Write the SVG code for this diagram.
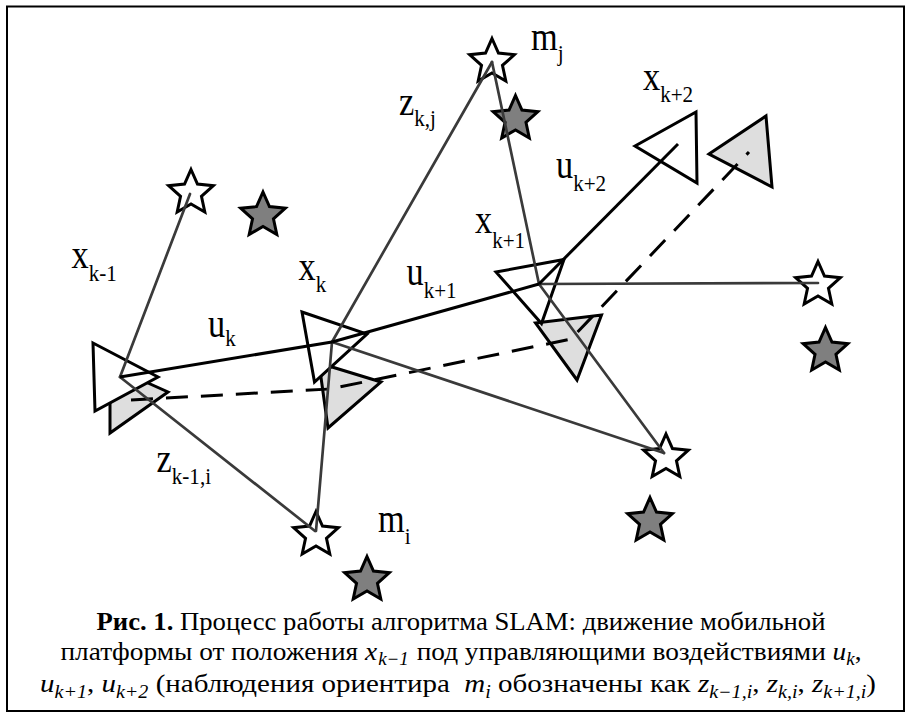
<svg xmlns="http://www.w3.org/2000/svg" width="911" height="718" viewBox="0 0 911 718">
<style>
.frame{fill:#fff;stroke:#000;stroke-width:2}
.ws{fill:#fff;stroke:#000;stroke-width:3}
.ds{fill:#7f7f7f;stroke:#000;stroke-width:3}
.wt{fill:#fff;stroke:#000;stroke-width:3}
.gt{fill:#dedede;stroke:#000;stroke-width:3}
.obs{stroke:#3a3a3a;stroke-width:2.7;fill:none;stroke-linecap:round}
.ctl{stroke:#000;stroke-width:3;fill:none}
.est{stroke:#000;stroke-width:3;fill:none;stroke-dasharray:22 13}
.lbl{font-family:"Liberation Serif","Times New Roman",serif;font-size:39px;fill:#000}
.sb{font-size:24px}
.cap{font-family:"Liberation Serif","Times New Roman",serif;font-size:26px;fill:#000}
.mi{font-style:italic}
.cs{font-size:18px}
</style>
<defs>
<path id="star" d="M0,-23.5 L6.47,-8.9 L22.35,-7.26 L10.46,3.4 L13.81,19.01 L0,11 L-13.81,19.01 L-10.46,3.4 L-22.35,-7.26 L-6.47,-8.9 Z"/>
</defs>
<rect class="frame" x="7" y="6.5" width="897" height="704.5"/>

<g id="landmarks">
<g id="lm-s1"><use href="#star" class="ws" x="191" y="193"/></g>
<g id="lm-s1-true"><use href="#star" class="ds" x="263" y="215.5"/></g>
<g id="lm-mj"><use href="#star" class="ws" x="492" y="62"/></g>
<g id="lm-mj-true"><use href="#star" class="ds" x="515.5" y="119"/></g>
<g id="lm-s5"><use href="#star" class="ws" x="818" y="285"/></g>
<g id="lm-s5-true"><use href="#star" class="ds" x="825.5" y="351"/></g>
<g id="lm-s4"><use href="#star" class="ws" x="666" y="457.5"/></g>
<g id="lm-s4-true"><use href="#star" class="ds" x="650" y="521"/></g>
<g id="lm-mi"><use href="#star" class="ws" x="316" y="535"/></g>
<g id="lm-mi-true"><use href="#star" class="ds" x="367" y="580"/></g>
</g>

<g id="pose-est">
<polygon class="gt" points="110,366 168,392 110,433"/>
<polygon class="gt" points="319,363 381,382 328,428"/>
<polygon class="gt" points="535.5,323 601.5,315 577,380"/>
<polygon class="gt" points="709,154 766,116 772,187"/>
</g>

<g id="pose-xk-1"><polygon class="wt" points="93,343 158,377 95,411"/></g>
<g id="pose-xk"><polygon class="wt" points="302,312 367,334 314.5,382"/></g>
<g id="pose-xk+1"><polygon class="wt" points="496,272 564,259.5 541.5,323.5"/></g>
<g id="pose-xk+2"><polygon class="wt" points="635,146 696,112 697,183"/></g>

<g id="connectors">
<path class="est" d="M131,400 L330,389 L571,339 L749,152"/>
<line class="obs" x1="120" y1="377" x2="190" y2="194"/>
<line class="obs" x1="120" y1="377" x2="315" y2="531"/>
<line class="obs" x1="332" y1="342" x2="492" y2="62"/>
<line class="obs" x1="332" y1="342" x2="316" y2="531"/>
<line class="obs" x1="332" y1="342" x2="664" y2="453"/>
<line class="obs" x1="539" y1="284" x2="492" y2="62"/>
<line class="obs" x1="539" y1="284" x2="818" y2="283"/>
<line class="obs" x1="539" y1="284" x2="664" y2="453"/>
<line class="ctl" x1="120" y1="377" x2="332" y2="342"/>
<line class="ctl" x1="332" y1="342" x2="539" y2="284"/>
<line class="ctl" x1="539" y1="284" x2="678" y2="144"/>
</g>

<g id="labels">
<g transform="translate(71.5,268) scale(0.88,1)"><text class="lbl">x<tspan class="sb" dy="13">k-1</tspan></text></g>
<g transform="translate(298.5,280) scale(0.88,1)"><text class="lbl">x<tspan class="sb" dy="12">k</tspan></text></g>
<g transform="translate(208,337) scale(0.88,1)"><text class="lbl">u<tspan class="sb" dy="9">k</tspan></text></g>
<g transform="translate(406.5,285) scale(0.88,1)"><text class="lbl">u<tspan class="sb" dy="13">k+1</tspan></text></g>
<g transform="translate(475,233) scale(0.88,1)"><text class="lbl">x<tspan class="sb" dy="15">k+1</tspan></text></g>
<g transform="translate(643,90) scale(0.88,1)"><text class="lbl">x<tspan class="sb" dy="12">k+2</tspan></text></g>
<g transform="translate(556,178) scale(0.88,1)"><text class="lbl">u<tspan class="sb" dy="13">k+2</tspan></text></g>
<g transform="translate(531,50) scale(0.88,1)"><text class="lbl">m<tspan class="sb" dy="11">j</tspan></text></g>
<g transform="translate(378,532) scale(0.88,1)"><text class="lbl">m<tspan class="sb" dy="12">i</tspan></text></g>
<g transform="translate(399,115) scale(0.88,1)"><text class="lbl">z<tspan class="sb" dy="11">k,j</tspan></text></g>
<g transform="translate(156.5,472) scale(0.88,1)"><text class="lbl">z<tspan class="sb" dy="12">k-1,i</tspan></text></g>
</g>

<g id="caption">
<text class="cap" x="461" y="630" text-anchor="middle" textLength="729" lengthAdjust="spacingAndGlyphs"><tspan font-weight="bold">Рис. 1.</tspan> Процесс работы алгоритма SLAM: движение мобильной</text>
<text class="cap" x="461" y="660" text-anchor="middle" textLength="801" lengthAdjust="spacingAndGlyphs">платформы от положения <tspan class="mi">x</tspan><tspan class="cs mi" dy="5" dx="1">k−1</tspan><tspan dy="-5" dx="1"> под управляющими воздействиями </tspan><tspan class="mi">u</tspan><tspan class="cs mi" dy="5">k</tspan><tspan dy="-5">,</tspan></text>
<text class="cap" x="458" y="692" text-anchor="middle" textLength="836" lengthAdjust="spacingAndGlyphs"><tspan class="mi">u</tspan><tspan class="cs mi" dy="6">k+1</tspan><tspan dy="-6">, </tspan><tspan class="mi">u</tspan><tspan class="cs mi" dy="6">k+2</tspan><tspan dy="-6"> (наблюдения ориентира&#160; </tspan><tspan class="mi">m</tspan><tspan class="cs mi" dy="6">i</tspan><tspan dy="-6"> обозначены как </tspan><tspan class="mi">z</tspan><tspan class="cs mi" dy="6">k−1,i</tspan><tspan dy="-6">, </tspan><tspan class="mi">z</tspan><tspan class="cs mi" dy="6">k,i</tspan><tspan dy="-6">, </tspan><tspan class="mi">z</tspan><tspan class="cs mi" dy="6">k+1,i</tspan><tspan dy="-6">)</tspan></text>
</g>
</svg>
